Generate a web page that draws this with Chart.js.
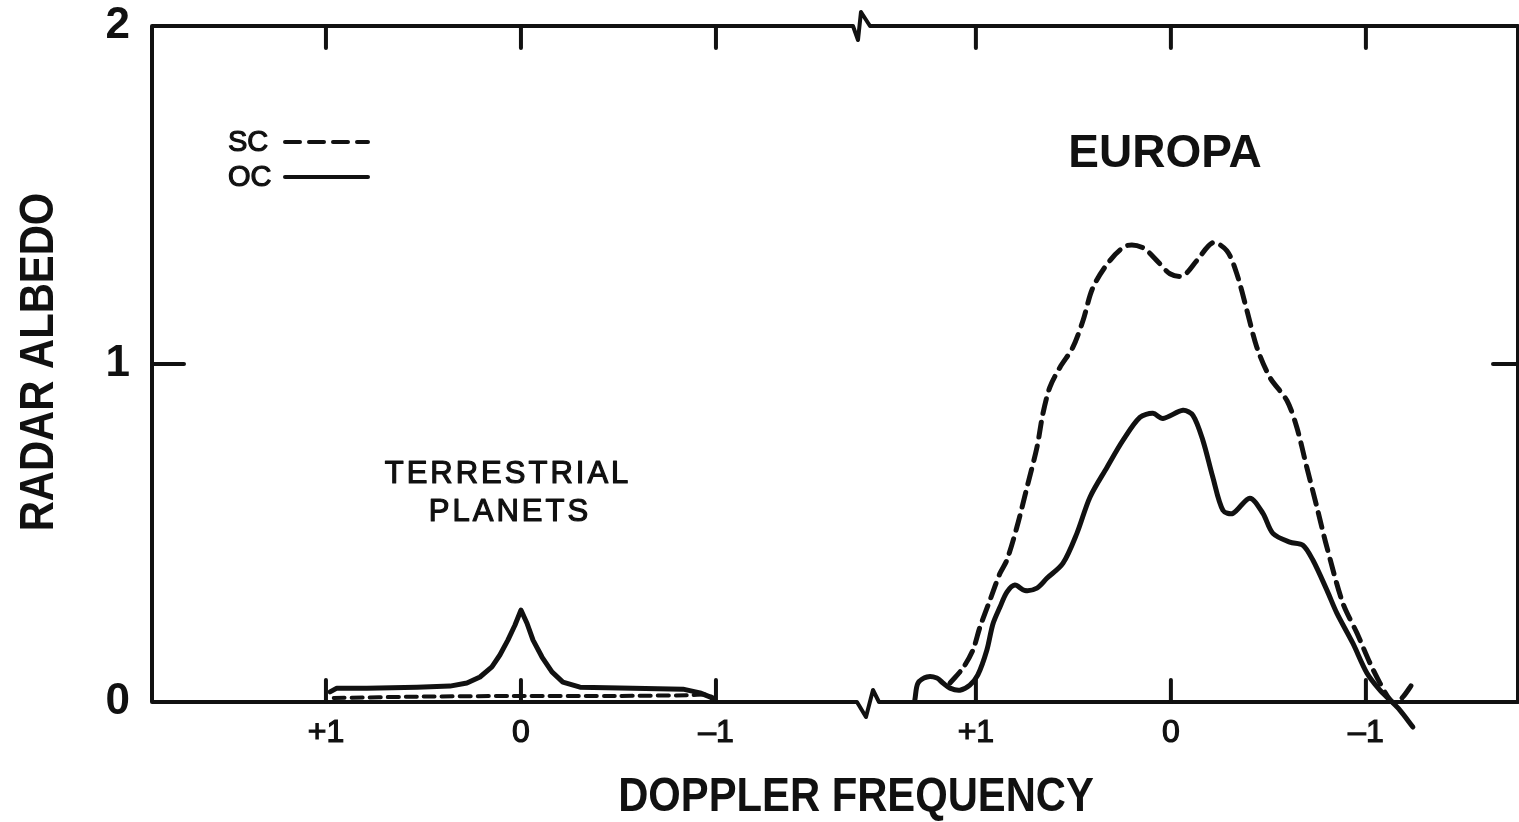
<!DOCTYPE html>
<html>
<head>
<meta charset="utf-8">
<script src="https://cdn.jsdelivr.net/npm/chart.js@4"></script>
<style>
  html, body { margin: 0; background: #fff; }
  canvas { display: block; }
</style>
</head>
<body>
<canvas id="albedoChart" width="1519" height="822"></canvas>
<script>
// Doppler tick marks (same in both panels)
const TICK_FREQS = [1, 0, -1];
const TICK_LABELS = ['+1', '0', '–1'];

// Terrestrial planets panel
const terrOcFreq = [0.979, 0.944, 0.790, 0.533, 0.364, 0.277, 0.210, 0.149, 0.108, 0.067, 0.031, 0, -0.031, -0.062, -0.108, -0.159, -0.215, -0.303, -0.574, -0.831, -0.918, -0.969, -0.99];
const terrOcAlbedo = [0.030, 0.041, 0.041, 0.044, 0.047, 0.056, 0.074, 0.104, 0.139, 0.183, 0.227, 0.272, 0.233, 0.183, 0.133, 0.089, 0.059, 0.044, 0.041, 0.038, 0.027, 0.015, 0.008];
const terrScFreq = [0.96, 0.5, 0, -0.5, -0.85, -0.95, -0.99];
const terrScAlbedo = [0.012, 0.016, 0.018, 0.018, 0.020, 0.022, 0.012];

// Europa panel
const europaOcFreq = [1.313, 1.297, 1.251, 1.200, 1.169, 1.133, 1.082, 1.031, 0.990, 0.944, 0.913, 0.877, 0.841, 0.800, 0.749, 0.687, 0.636, 0.554, 0.482, 0.415, 0.328, 0.246, 0.159, 0.092, 0.041, -0.062, -0.113, -0.164, -0.215, -0.267, -0.318, -0.405, -0.472, -0.523, -0.610, -0.677, -0.728, -0.800, -0.851, -0.933, -1.005, -1.072, -1.123, -1.174, -1.241];
const europaOcAlbedo = [0.006, 0.056, 0.074, 0.071, 0.056, 0.041, 0.035, 0.050, 0.080, 0.153, 0.230, 0.280, 0.325, 0.346, 0.330, 0.337, 0.366, 0.410, 0.499, 0.606, 0.694, 0.774, 0.842, 0.854, 0.839, 0.863, 0.848, 0.774, 0.665, 0.567, 0.558, 0.603, 0.558, 0.499, 0.473, 0.464, 0.420, 0.331, 0.263, 0.174, 0.086, 0.035, 0.006, -0.024, -0.074];
const europaScFreq = [1.133, 1.067, 1.015, 0.979, 0.928, 0.877, 0.841, 0.790, 0.738, 0.687, 0.656, 0.621, 0.569, 0.503, 0.451, 0.400, 0.313, 0.226, 0.144, 0.072, 0.005, -0.062, -0.133, -0.215, -0.287, -0.338, -0.390, -0.441, -0.508, -0.595, -0.646, -0.697, -0.749, -0.800, -0.882, -0.954, -1.021, -1.072, -1.113, -1.149, -1.190, -1.241];
const europaScAlbedo = [0.056, 0.100, 0.154, 0.222, 0.301, 0.380, 0.420, 0.517, 0.635, 0.753, 0.854, 0.931, 0.990, 1.049, 1.128, 1.226, 1.306, 1.350, 1.344, 1.306, 1.267, 1.261, 1.306, 1.359, 1.335, 1.267, 1.158, 1.049, 0.960, 0.892, 0.812, 0.694, 0.576, 0.458, 0.292, 0.204, 0.115, 0.056, 0.015, -0.003, 0.015, 0.056];

// both panels share one x axis; Europa's zero is shifted right
const EUROPA_SHIFT = 3.333;
const BREAK_AT = 1.754;
const X_MIN = -1.892;
const X_MAX = 5.113;

const INK = '#111';
const FONT = '"Liberation Sans", Arial, sans-serif';

function toPoints(freqs, vals, shift) {
    return freqs.map((f, i) => ({ x: shift - f, y: vals[i] }));
}

// scanned text looks a bit heavier than plain regular weight
function inkText(ctx, text, x, y) {
    ctx.fillText(text, x, y);
    ctx.strokeText(text, x, y);
}

// frame with axis breaks, inward ticks, legend and labels
const framePlugin = {
    id: 'frame',
    afterDatasetsDraw(chart) {
        const { ctx, chartArea: a, scales: { x, y } } = chart;
        const bx = x.getPixelForValue(BREAK_AT);
        ctx.save();
        ctx.strokeStyle = INK;
        ctx.fillStyle = INK;
        ctx.lineWidth = 4;
        ctx.lineJoin = 'round';
        ctx.lineCap = 'round';

        // box
        ctx.beginPath();
        ctx.moveTo(a.left, a.bottom);
        ctx.lineTo(a.left, a.top);
        ctx.lineTo(bx - 10, a.top);
        ctx.lineTo(bx - 5, a.top + 14);
        ctx.lineTo(bx - 2, a.top - 14);
        ctx.lineTo(bx + 7, a.top);
        ctx.lineTo(a.right, a.top);
        ctx.lineTo(a.right, a.bottom);
        ctx.lineTo(bx + 16, a.bottom);
        ctx.lineTo(bx + 10, a.bottom - 12);
        ctx.lineTo(bx + 3, a.bottom + 15);
        ctx.lineTo(bx - 6, a.bottom);
        ctx.closePath();
        ctx.stroke();

        // inward ticks
        ctx.beginPath();
        x.ticks.forEach(t => {
            const px = x.getPixelForValue(t.value);
            ctx.moveTo(px, a.top);
            ctx.lineTo(px, a.top + 22);
            ctx.moveTo(px, a.bottom);
            ctx.lineTo(px, a.bottom - 22);
        });
        const y1 = y.getPixelForValue(1);
        ctx.moveTo(a.left, y1);
        ctx.lineTo(a.left + 32, y1);
        ctx.moveTo(a.right, y1);
        ctx.lineTo(a.right - 25, y1);
        ctx.stroke();

        // legend
        ctx.font = '29px ' + FONT;
        ctx.textBaseline = 'middle';
        ctx.textAlign = 'left';
        ctx.lineWidth = 1.2;
        inkText(ctx, 'SC', 228, 143);
        inkText(ctx, 'OC', 228, 178);
        ctx.lineWidth = 4;
        ctx.beginPath();
        ctx.setLineDash([15, 9]);
        ctx.moveTo(285, 142);
        ctx.lineTo(368, 142);
        ctx.stroke();
        ctx.setLineDash([]);
        ctx.beginPath();
        ctx.moveTo(285, 177);
        ctx.lineTo(368, 177);
        ctx.stroke();

        // panel labels
        ctx.textAlign = 'center';
        ctx.font = 'bold 46px ' + FONT;
        ctx.fillText('EUROPA', 1165, 154);
        ctx.font = '31px ' + FONT;
        ctx.letterSpacing = '3px';
        ctx.lineWidth = 1.2;
        inkText(ctx, 'TERRESTRIAL', 508, 474);
        inkText(ctx, 'PLANETS', 510, 512);
        ctx.letterSpacing = '0px';

        // axis titles
        ctx.font = 'bold 48px ' + FONT;
        ctx.save();
        ctx.translate(856, 798);
        ctx.scale(0.87, 1);
        ctx.fillText('DOPPLER FREQUENCY', 0, 0);
        ctx.restore();
        ctx.save();
        ctx.translate(40, 362);
        ctx.rotate(-Math.PI / 2);
        ctx.scale(0.87, 1);
        ctx.fillText('RADAR ALBEDO', 0, 0);
        ctx.restore();

        ctx.restore();
    }
};

const lineStyle = {
    borderColor: INK,
    borderWidth: 5,
    pointRadius: 0,
    fill: false,
    clip: false,
    borderCapStyle: 'round',
    borderJoinStyle: 'round'
};

new Chart(document.getElementById('albedoChart'), {
    type: 'line',
    data: {
        datasets: [
            { ...lineStyle, label: 'OC', data: toPoints(terrOcFreq, terrOcAlbedo, 0), tension: 0 },
            { ...lineStyle, label: 'SC', data: toPoints(terrScFreq, terrScAlbedo, 0), borderWidth: 4, borderDash: [11, 7], tension: 0.2 },
            { ...lineStyle, label: 'OC', data: toPoints(europaOcFreq, europaOcAlbedo, EUROPA_SHIFT), tension: 0.3 },
            { ...lineStyle, label: 'SC', data: toPoints(europaScFreq, europaScAlbedo, EUROPA_SHIFT), borderDash: [15, 9], tension: 0.3 }
        ]
    },
    options: {
        responsive: false,
        animation: false,
        layout: { padding: { top: 26, right: 1, left: 0, bottom: 0 } },
        plugins: {
            legend: { display: false },
            tooltip: { enabled: false }
        },
        scales: {
            x: {
                type: 'linear',
                min: X_MIN,
                max: X_MAX,
                grid: { display: false, drawTicks: false },
                border: { display: false },
                afterBuildTicks: scale => {
                    scale.ticks = [
                        ...TICK_FREQS.map(f => ({ value: -f })),
                        ...TICK_FREQS.map(f => ({ value: EUROPA_SHIFT - f }))
                    ];
                },
                afterFit: scale => {
                    scale.height = 120;
                    scale.paddingLeft = 0;
                    scale.paddingRight = 0;
                },
                ticks: {
                    autoSkip: false,
                    maxRotation: 0,
                    padding: 12,
                    color: INK,
                    textStrokeColor: INK,
                    textStrokeWidth: 1.2,
                    font: { family: FONT, size: 32 },
                    callback: (value, index) => TICK_LABELS[index % TICK_LABELS.length]
                }
            },
            y: {
                min: 0,
                max: 2,
                grid: { display: false, drawTicks: false },
                border: { display: false },
                afterFit: scale => {
                    scale.width = 152;
                    scale.paddingTop = 0;
                    scale.paddingBottom = 0;
                },
                ticks: {
                    stepSize: 1,
                    padding: 22,
                    color: INK,
                    font: { family: FONT, size: 44, weight: 'bold' }
                }
            }
        }
    },
    plugins: [framePlugin]
});
</script>
</body>
</html>
